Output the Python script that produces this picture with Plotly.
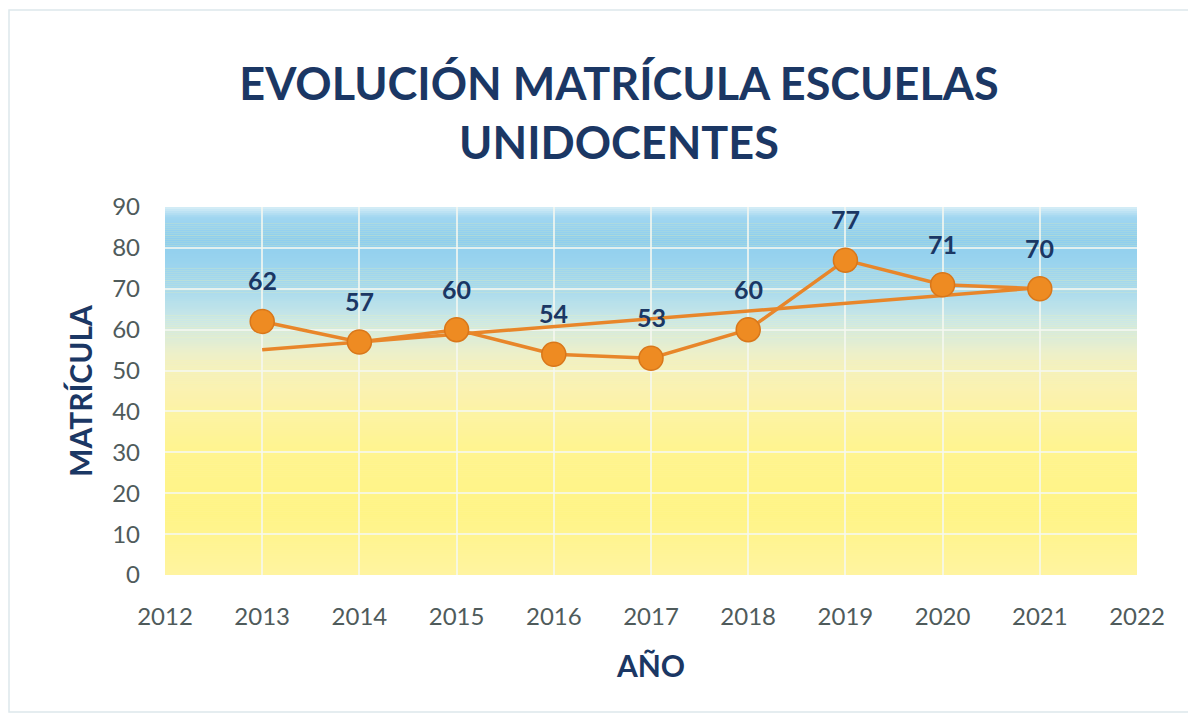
import numpy as np
import plotly.graph_objects as go

# ---- data ----
years = [2013, 2014, 2015, 2016, 2017, 2018, 2019, 2020, 2021]
matricula = [62, 57, 60, 54, 53, 60, 77, 71, 70]
x_ticks = list(range(2012, 2023))
y_ticks = list(range(0, 100, 10))

title_text = "EVOLUCIÓN MATRÍCULA ESCUELAS<br>UNIDOCENTES"
x_title = "AÑO"
y_title = "MATRÍCULA"

NAVY = "#1B3764"
ORANGE = "#E8862A"
TICK = "#4F5B5B"

# linear trend line (Excel style)
coef = np.polyfit(years, matricula, 1)
trend = np.polyval(coef, years)

fig = go.Figure()

# trendline
fig.add_trace(go.Scatter(x=years, y=trend, mode="lines",
                         line=dict(color=ORANGE, width=3.5),
                         hoverinfo="skip", showlegend=False))
# data series
fig.add_trace(go.Scatter(x=years, y=matricula, mode="lines+markers",
                         line=dict(color=ORANGE, width=3.5),
                         marker=dict(size=24, color="#EE8B22",
                                     line=dict(color="#D9771A", width=1.5)),
                         showlegend=False))

# data labels
for xv, yv in zip(years, matricula):
    fig.add_annotation(x=xv, y=yv, text=f"<b>{yv}</b>", showarrow=False,
                       yshift=41, font=dict(family="Lato", size=25, color=NAVY,
                                            weight=900))

# gradient background (bands below grid)
stops = [(0, "#FFF4A0"), (15, "#FFF486"), (30, "#FFF48E"), (45, "#FBF2B0"),
         (54, "#EEF0C8"), (62, "#CCE8E6"), (70, "#A8DAEE"), (82, "#8ECEEE"),
         (87.5, "#A0D6F0"), (90, "#D8EEF7")]

def hex2rgb(h):
    h = h.lstrip("#")
    return [int(h[i:i + 2], 16) for i in (0, 2, 4)]

sv = [s[0] for s in stops]
sc = np.array([hex2rgb(s[1]) for s in stops], dtype=float)
step = 0.5
shapes = []
for lo in np.arange(0, 90, step):
    mid = lo + step / 2
    rgb = [int(round(np.interp(mid, sv, sc[:, k]))) for k in range(3)]
    shapes.append(dict(type="rect", xref="x domain", yref="y",
                       x0=0, x1=1, y0=lo, y1=lo + step + 0.05,
                       fillcolor=f"rgb({rgb[0]},{rgb[1]},{rgb[2]})",
                       line=dict(width=0), layer="below"))
# faint outer chart border
shapes.append(dict(type="rect", xref="paper", yref="paper",
                   x0=(9 - 165) / 972, x1=(1190 - 165) / 972,
                   y0=(575 - 712) / 368, y1=(575 - 10) / 368,
                   line=dict(color="#DDE8EC", width=1.5), layer="below"))

# page body has an 8px margin: offset everything accordingly
fig.update_layout(
    width=1196, height=723,
    margin=dict(l=157, r=67, t=199, b=156, autoexpand=False),
    paper_bgcolor="white",
    plot_bgcolor="#FFF5A0",
    shapes=shapes,
    title=dict(text=title_text, x=611 / 1196, xref="container", xanchor="center",
               y=1 - 92 / 723, yref="container", yanchor="middle",
               font=dict(family="Lato", size=45, color=NAVY, weight="bold")),
    xaxis=dict(range=[2012, 2022], tickvals=x_ticks, showgrid=True,
               gridcolor="rgba(245,247,240,0.8)", gridwidth=2,
               zeroline=False, showline=False, automargin=False,
               tickfont=dict(family="Lato", size=24, color=TICK),
               ticklabelstandoff=25,
               title=dict(text=x_title, standoff=26,
                          font=dict(family="Lato", size=30, color=NAVY, weight="bold"))),
    yaxis=dict(range=[0, 90], tickvals=y_ticks, showgrid=True,
               gridcolor="rgba(245,247,240,0.8)", gridwidth=2,
               zeroline=False, showline=False, automargin=False,
               tickfont=dict(family="Lato", size=24, color=TICK),
               ticklabelstandoff=24,
               title=dict(text=y_title, standoff=10,
                          font=dict(family="Lato", size=30, color=NAVY, weight="bold"))),
)

fig.write_html("out.html")
